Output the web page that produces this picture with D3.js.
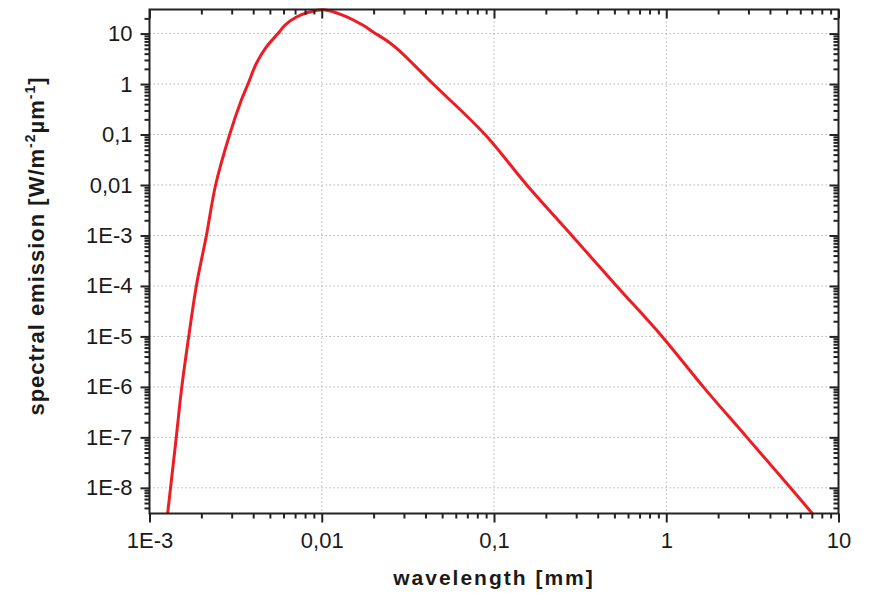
<!DOCTYPE html>
<html>
<head>
<meta charset="utf-8">
<script src="https://d3js.org/d3.v7.min.js"></script>
<style>
  body { margin: 0; background: #fff; }
  text { font-family: "Liberation Sans", Arial, sans-serif; fill: #1a1a1a; }
</style>
</head>
<body>
<svg id="chart" width="869" height="593"></svg>
<script>
// values (wavelength in mm, emission in W/m^2/um)
const wavelength = [0.00127, 0.001325, 0.00143, 0.00154, 0.00169, 0.00187, 0.00214, 0.00242,
  0.00292, 0.00341, 0.00373, 0.00417, 0.00477, 0.00557, 0.0061, 0.00713, 0.00851, 0.0102,
  0.0133, 0.01738, 0.01987, 0.0248, 0.0284, 0.0444, 0.0887, 0.155, 0.283, 0.515, 0.945,
  1.64, 2.94, 5.26, 7.05];
const emission = [2.8e-9, 1e-8, 1e-7, 1e-6, 1e-5, 1e-4, 1e-3, 1e-2,
  0.1, 0.477, 1, 2.55, 5.43, 10, 14.6, 21.3, 26.8, 29.6,
  23.0, 14.6, 10.8, 6.6, 4.5, 1, 0.1, 0.01, 1e-3, 1e-4, 1e-5,
  1e-6, 1e-7, 1e-8, 3.1e-9];

const xTickValues = [0.001, 0.01, 0.1, 1, 10];
const xTickLabels = ["1E-3", "0,01", "0,1", "1", "10"];
const yTickValues = [1e-8, 1e-7, 1e-6, 1e-5, 1e-4, 1e-3, 0.01, 0.1, 1, 10];
const yTickLabels = ["1E-8", "1E-7", "1E-6", "1E-5", "1E-4", "1E-3", "0,01", "0,1", "1", "10"];

const svg = d3.select("svg#chart");
const pLeft = 149.5, pRight = 838.5, pTop = 9.5, pBottom = 513.5;

const x = d3.scaleLog().domain([0.001, 10]).range([pLeft, pRight]);
const y = d3.scaleLog().domain([3.1e-9, 30]).range([pBottom, pTop]);

// minor ticks 2..9 per decade
function minors(scale) {
  const [a, b] = scale.domain();
  const out = [];
  for (let e = Math.floor(Math.log10(a)); e <= Math.ceil(Math.log10(b)); e++) {
    for (let k = 2; k <= 9; k++) {
      const v = k * Math.pow(10, e);
      if (v > a && v < b) out.push(v);
    }
  }
  return out;
}

// grid
const grid = svg.append("g").attr("stroke", "#b5b5b5").attr("stroke-width", 1)
  .attr("stroke-dasharray", "1.5,2.5");
xTickValues.slice(1, -1).forEach(v => {
  grid.append("line").attr("x1", x(v)).attr("x2", x(v)).attr("y1", pTop).attr("y2", pBottom);
});
yTickValues.forEach(v => {
  grid.append("line").attr("x1", pLeft).attr("x2", pRight).attr("y1", y(v)).attr("y2", y(v));
});

// curve
svg.append("clipPath").attr("id", "clip").append("rect")
  .attr("x", pLeft).attr("y", pTop - 2).attr("width", pRight - pLeft).attr("height", pBottom - pTop + 2);

const pts = wavelength.map((w, i) => [w, emission[i]]);
svg.append("path")
  .datum(pts)
  .attr("clip-path", "url(#clip)")
  .attr("fill", "none")
  .attr("stroke", "#ee1c24")
  .attr("stroke-width", 3)
  .attr("stroke-linejoin", "round")
  .attr("d", d3.line().x(d => x(d[0])).y(d => y(d[1])).curve(d3.curveCatmullRom.alpha(0.5)));

// axes
const fmtX = v => xTickLabels[xTickValues.indexOf(v)];
const fmtY = v => yTickLabels[yTickValues.indexOf(v)];

function styleAxis(g) {
  g.select(".domain").remove();
  g.selectAll(".tick line").attr("stroke", "#222").attr("stroke-width", 2);
  g.selectAll(".tick text").style("font-size", "22px").attr("fill", "#1a1a1a");
}

const xMinor = minors(x), yMinor = minors(y);

svg.append("g").attr("transform", `translate(0,${pBottom})`)
  .call(d3.axisBottom(x).tickValues(xTickValues).tickFormat(fmtX).tickSize(9).tickPadding(10))
  .call(styleAxis);
svg.append("g").attr("transform", `translate(0,${pBottom})`)
  .call(d3.axisBottom(x).tickValues(xMinor).tickFormat("").tickSize(5)).call(styleAxis);

svg.append("g").attr("transform", `translate(0,${pTop})`)
  .call(d3.axisBottom(x).tickValues(xTickValues).tickFormat("").tickSize(9)).call(styleAxis);
svg.append("g").attr("transform", `translate(0,${pTop})`)
  .call(d3.axisBottom(x).tickValues(xMinor).tickFormat("").tickSize(5)).call(styleAxis);

svg.append("g").attr("transform", `translate(${pLeft},0)`)
  .call(d3.axisLeft(y).tickValues(yTickValues).tickFormat(fmtY).tickSize(9).tickPadding(8))
  .call(styleAxis);
svg.append("g").attr("transform", `translate(${pLeft},0)`)
  .call(d3.axisLeft(y).tickValues(yMinor).tickFormat("").tickSize(5)).call(styleAxis);

svg.append("g").attr("transform", `translate(${pRight},0)`)
  .call(d3.axisLeft(y).tickValues(yTickValues).tickFormat("").tickSize(9)).call(styleAxis);
svg.append("g").attr("transform", `translate(${pRight},0)`)
  .call(d3.axisLeft(y).tickValues(yMinor).tickFormat("").tickSize(5)).call(styleAxis);

// frame
svg.append("rect").attr("x", pLeft).attr("y", pTop).attr("width", pRight - pLeft).attr("height", pBottom - pTop)
  .attr("fill", "none").attr("stroke", "#222").attr("stroke-width", 2);

// titles
svg.append("text").attr("x", (pLeft + pRight) / 2).attr("y", 585)
  .attr("text-anchor", "middle").style("font-size", "21px").style("font-weight", "bold")
  .style("letter-spacing", "2px").text("wavelength [mm]");

const yt = svg.append("text").attr("transform", "translate(44,246) rotate(-90)")
  .attr("text-anchor", "middle").style("font-size", "22px").style("font-weight", "bold")
  .style("letter-spacing", "1px");
yt.append("tspan").text("spectral emission [W/m");
yt.append("tspan").attr("dy", -9).style("font-size", "14px").text("-2");
yt.append("tspan").attr("dy", 9).text("µm");
yt.append("tspan").attr("dy", -9).style("font-size", "14px").text("-1");
yt.append("tspan").attr("dy", 9).text("]");
</script>
</body>
</html>
